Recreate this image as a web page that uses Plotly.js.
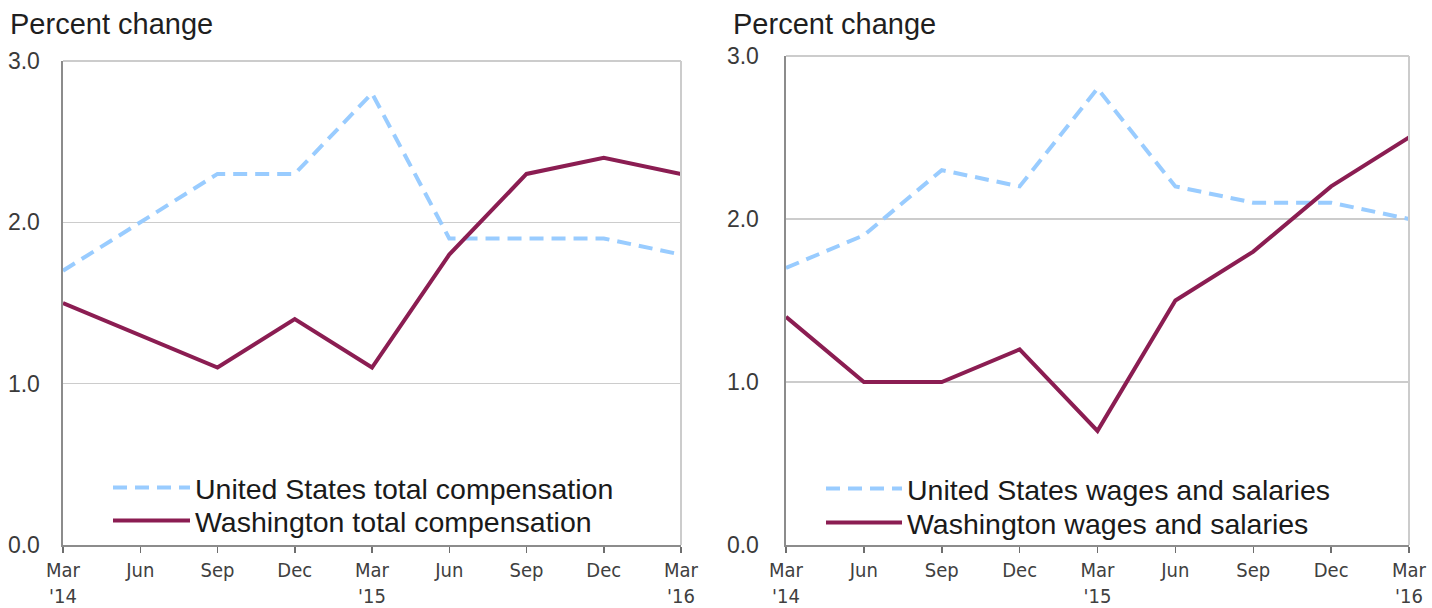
<!DOCTYPE html>
<html>
<head>
<meta charset="utf-8">
<script src="https://cdn.plot.ly/plotly-3.0.1.min.js"></script>
<style>html,body{margin:0;padding:0;background:#fff;}#chart{width:1432px;height:608px;}</style>
</head>
<body>
<div id="chart"></div>
<script>
var quarterIndex = [0, 1, 2, 3, 4, 5, 6, 7, 8];
var tickLabels = ["Mar<br>'14", "Jun", "Sep", "Dec", "Mar<br>'15", "Jun", "Sep", "Dec", "Mar<br>'16"];
var usTotalComp = [1.7, 2.0, 2.3, 2.3, 2.8, 1.9, 1.9, 1.9, 1.8];
var waTotalComp = [1.5, 1.3, 1.1, 1.4, 1.1, 1.8, 2.3, 2.4, 2.3];
var usWages = [1.7, 1.9, 2.3, 2.2, 2.8, 2.2, 2.1, 2.1, 2.0];
var waWages = [1.4, 1.0, 1.0, 1.2, 0.7, 1.5, 1.8, 2.2, 2.5];
var yTicks = [0, 1, 2, 3];
var yTickLabels = ["0.0", "1.0", "2.0", "3.0"];

var BLUE = '#99CCFF', PURPLE = '#8B1D52';
var FONT = 'Liberation Sans, Arial, sans-serif';
var NARROW = 'Liberation Sans Narrow, DejaVu Sans Condensed, Liberation Sans, sans-serif';

var traces = [
  {x: quarterIndex, y: usTotalComp, name: 'United States total compensation', type: 'scatter', mode: 'lines',
   line: {color: BLUE, width: 4, dash: '14px,8px'}, xaxis: 'x', yaxis: 'y', legend: 'legend'},
  {x: quarterIndex, y: waTotalComp, name: 'Washington total compensation', type: 'scatter', mode: 'lines',
   line: {color: PURPLE, width: 4}, xaxis: 'x', yaxis: 'y', legend: 'legend3'},
  {x: quarterIndex, y: usWages, name: 'United States wages and salaries', type: 'scatter', mode: 'lines',
   line: {color: BLUE, width: 4, dash: '14px,8px'}, xaxis: 'x2', yaxis: 'y2', legend: 'legend2'},
  {x: quarterIndex, y: waWages, name: 'Washington wages and salaries', type: 'scatter', mode: 'lines',
   line: {color: PURPLE, width: 4}, xaxis: 'x2', yaxis: 'y2', legend: 'legend4'}
];

function xax(domain, anchor) {
  return {domain: domain, anchor: anchor, range: [0, 8], tickmode: 'array', tickvals: quarterIndex, ticktext: tickLabels,
    showgrid: false, zeroline: false, showline: true, linecolor: '#8c8c8c', linewidth: 2,
    ticks: 'outside', ticklen: 6, tickwidth: 1.5, tickcolor: '#6e6e6e', ticklabelstandoff: 0,
    tickfont: {family: NARROW, size: 20, color: '#404040'}, fixedrange: true};
}
function xover(domain, overlay, anchor) {
  return {domain: domain, overlaying: overlay, anchor: anchor, side: 'bottom', range: [0, 8], tickmode: 'array', tickvals: quarterIndex,
    showticklabels: false, showgrid: false, zeroline: false, showline: false,
    ticks: 'inside', ticklen: 7, tickwidth: 1.5, tickcolor: '#6e6e6e'};
}
function yax(domain, anchor, standoff) {
  return {domain: domain, anchor: anchor, range: [0, 3], tickmode: 'array', tickvals: yTicks, ticktext: yTickLabels,
    showgrid: true, gridcolor: '#cccccc', gridwidth: 1.5, zeroline: false, showline: true, linecolor: '#8c8c8c', linewidth: 2.5,
    ticks: '', ticklabelstandoff: standoff, tickfont: {family: FONT, size: 23, color: '#3a3a3a'}, fixedrange: true};
}
function leg(xpx, ypx, w) {
  return {x: xpx/1432, y: 1 - ypx/608, xanchor: 'left', yanchor: 'middle', bgcolor: 'rgba(0,0,0,0)',
    font: {family: FONT, size: 28.5, color: '#1a1a1a'}, itemwidth: w, traceorder: 'normal'};
}

var d1 = [63/1432, 681/1432], d2 = [786/1432, 1409/1432];
var yd1 = [63/608, 547/608], yd2 = [63/608, 552/608];

var layout = {
  width: 1432, height: 608, margin: {l: 0, r: 0, t: 0, b: 0},
  paper_bgcolor: '#ffffff', plot_bgcolor: '#ffffff',
  font: {family: FONT, color: '#222222'},
  showlegend: true,
  xaxis: xax(d1, 'y'), yaxis: yax(yd1, 'x', 16),
  xaxis2: xax(d2, 'y2'), yaxis2: yax(yd2, 'x2', 20),
  xaxis3: xover(d1, 'x', 'y'), xaxis4: xover(d2, 'x2', 'y2'),
  legend: leg(108, 488, 77),
  legend3: leg(108, 521, 77),
  legend2: leg(821, 489, 76),
  legend4: leg(821, 523, 76),
  shapes: [
    {type: 'line', xref: 'x domain', yref: 'y domain', x0: 0, x1: 1, y0: 1, y1: 1, line: {color: '#cccccc', width: 2}},
    {type: 'line', xref: 'x domain', yref: 'y domain', x0: 1, x1: 1, y0: 0, y1: 1, line: {color: '#cccccc', width: 2}},
    {type: 'line', xref: 'x2 domain', yref: 'y2 domain', x0: 0, x1: 1, y0: 1, y1: 1, line: {color: '#cccccc', width: 2}},
    {type: 'line', xref: 'x2 domain', yref: 'y2 domain', x0: 1, x1: 1, y0: 0, y1: 1, line: {color: '#cccccc', width: 2}}
  ],
  annotations: [
    {text: 'Percent change', xref: 'paper', yref: 'paper', x: 8/1432, y: 1 - 6/608, xanchor: 'left', yanchor: 'top',
     showarrow: false, font: {family: FONT, size: 29, color: '#1f1f1f'}},
    {text: 'Percent change', xref: 'paper', yref: 'paper', x: 731/1432, y: 1 - 6/608, xanchor: 'left', yanchor: 'top',
     showarrow: false, font: {family: FONT, size: 29, color: '#1f1f1f'}}
  ]
};

Plotly.newPlot('chart', traces, layout, {staticPlot: true, displayModeBar: false});
</script>
</body>
</html>
